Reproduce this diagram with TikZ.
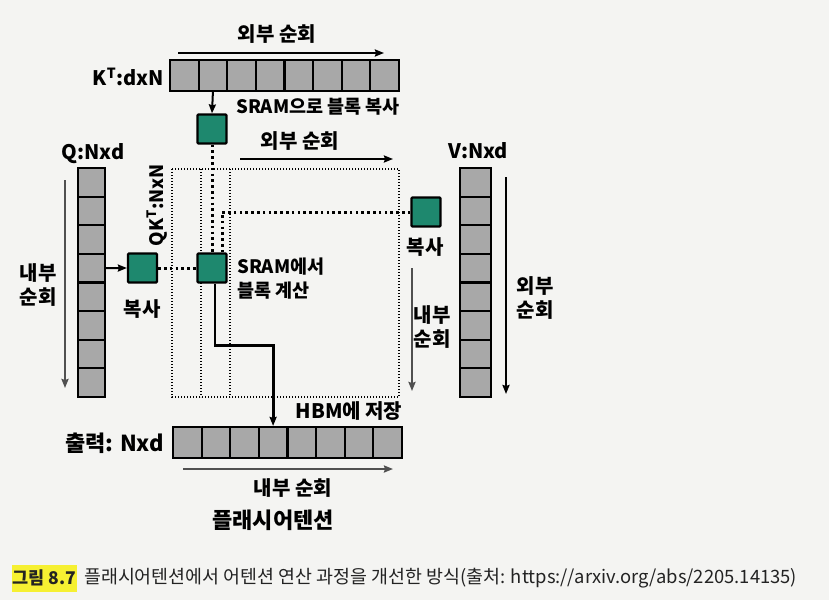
\documentclass[tikz,border=0pt]{standalone}
\usepackage{fontspec}
\setmainfont{Noto Sans CJK KR}
\newfontfamily\kr{Noto Sans CJK KR}
\usetikzlibrary{arrows.meta,calc}
\definecolor{tealsq}{RGB}{30,136,110}
\definecolor{cellg}{RGB}{168,168,168}
\definecolor{bgc}{RGB}{244,244,242}
\definecolor{arrg}{RGB}{80,80,80}
\definecolor{hl}{RGB}{246,240,50}
\definecolor{captxt}{RGB}{35,35,35}
\begin{document}
\begin{tikzpicture}[x=1pt,y=-1pt,
  hcell/.style={draw=black,line width=2.2pt,fill=cellg,inner sep=0pt,minimum width=28.6pt,minimum height=31pt},
  vcell/.style={draw=black,line width=2.2pt,fill=cellg,inner sep=0pt,minimum width=28pt,minimum height=28.6pt},
  sq/.style={draw=black,line width=2.2pt,fill=tealsq,inner sep=0pt,minimum size=29pt,rounded corners=1pt},
  lbl/.style={font=\kr\bfseries\fontsize{20}{24}\selectfont,inner sep=0pt,align=center},
  lbls/.style={lbl,font=\kr\bfseries\fontsize{18.5}{24}\selectfont},
  lblb/.style={lbl,font=\kr\bfseries\fontsize{22}{24}\selectfont},
  tip/.style={-{Stealth[length=9pt,width=7pt,inset=1pt]}},
  longarr/.style={tip,line width=2pt},
  thindot/.style={line width=1.2pt,dash pattern=on 1.2pt off 1.8pt},
  bolddot/.style={line width=3pt,dash pattern=on 2.6pt off 3.2pt},
  thickline/.style={line width=2.8pt}]
\fill[bgc] (0,0) rectangle (829,600);
\useasboundingbox (0,0) rectangle (829,600);

% K^T bar
\foreach \i in {1,...,8}
  \node[hcell] (k\i) at ({170+28.6*(\i-0.5)},75.5) {};
\node[lbl,anchor=east] (klbl) at (164,77) {K\textsuperscript{T}:dxN};
\coordinate (ka1) at (178,53);
\coordinate (ka2) at (384,53);
\draw[longarr] (ka1) -- (ka2);
\node[lbl] (kout) at (277,34) {외부 순회};

% K block
\node[sq] (ksq) at (212,129) {};
\draw[tip,line width=2pt] (k2.south) -- (ksq.north);
\node[lbls,anchor=west] (sramcp) at (236,107) {SRAM으로 블록 복사};
\node[lbl] (kout2) at (300,141) {외부 순회};
\coordinate (kb1) at (240,159);
\coordinate (kb2) at (393,159);
\draw[longarr] (kb1) -- (kb2);

% attention matrix block region
\draw[thindot] (172,169) rectangle (399,397);
\draw[thindot] (201,169) -- (201,397);
\draw[thindot] (230,169) -- (230,397);

% Q column
\foreach \i in {1,...,8}
  \node[vcell,minimum width=27pt] (q\i) at (91.5,{168+28.6*(\i-0.5)}) {};
\node[lbl] (qlbl) at (93,154) {Q:Nxd};
\coordinate (qa1) at (65,180);
\coordinate (qa2) at (65,388);
\draw[longarr,draw=arrg,fill=arrg] (qa1) -- (qa2);
\node[lbl] (qin) at (38,285) {내부\\순회};

% Q block
\node[sq] (qsq) at (142.5,268) {};
\draw[tip,line width=2pt] (q4.east) -- (qsq.west);
\node[lbl] (qcp) at (142,309) {복사};
\node[lbls,rotate=90] (qkt) at (157,205) {QK\textsuperscript{T}:NxN};

% compute block
\node[sq] (csq) at (212,268) {};
\node[lbls,align=left,anchor=west] (sramc) at (237,279) {SRAM에서\\블록 계산};
\draw[bolddot] (ksq.south) -- (csq.north);
\draw[bolddot] (qsq.east) -- (csq.west);

% V column
\foreach \i in {1,...,8}
  \node[vcell,minimum width=31pt] (v\i) at (475.5,{168+28.6*(\i-0.5)}) {};
\node[lbl] (vlbl) at (478,151) {V:Nxd};
\coordinate (va1) at (506,177);
\coordinate (va2) at (506,394);
\draw[longarr] (va1) -- (va2);
\node[lbl] (vout) at (535,298) {외부\\순회};

% V block
\node[sq] (vsq) at (426,212) {};
\node[lbl] (vcp) at (425,247) {복사};
\coordinate (vi1) at (412,268);
\coordinate (vi2) at (412,391);
\draw[longarr,draw=arrg,fill=arrg] (vi1) -- (vi2);
\node[lbl] (vin) at (432,327) {내부\\순회};
\draw[bolddot] (vsq.west) -| ([xshift=10pt]csq.north);

% output bar
\foreach \i in {1,...,8}
  \node[hcell] (o\i) at ({173+28.6*(\i-0.5)},442.5) {};
\node[lblb,anchor=east] (olbl) at (164,443) {출력: Nxd};
\node[lbl] (hbm) at (349,411) {HBM에 저장};
\draw[thickline,tip] ([xshift=3pt]csq.south) -- ++(0,62) -| (o4.north);
\coordinate (oa1) at (183,469);
\coordinate (oa2) at (393,469);
\draw[longarr,draw=arrg,fill=arrg] (oa1) -- (oa2);
\node[lbl] (oin) at (293,488) {내부 순회};
\node[lblb] (flash) at (273,520) {플래시어텐션};

% caption
\fill[hl] (12,565) rectangle (77,592);
\node[anchor=west,inner sep=0pt,font=\kr\bfseries\fontsize{17.5}{20}\selectfont,text=captxt] (fig) at (12,578) {그림 8.7};
\node[anchor=west,inner sep=0pt,font=\kr\fontsize{18.4}{20}\selectfont,text=captxt] (cap) at (84,578) {플래시어텐션에서 어텐션 연산 과정을 개선한 방식(출처: https://arxiv.org/abs/2205.14135)};
\end{tikzpicture}
\end{document}
